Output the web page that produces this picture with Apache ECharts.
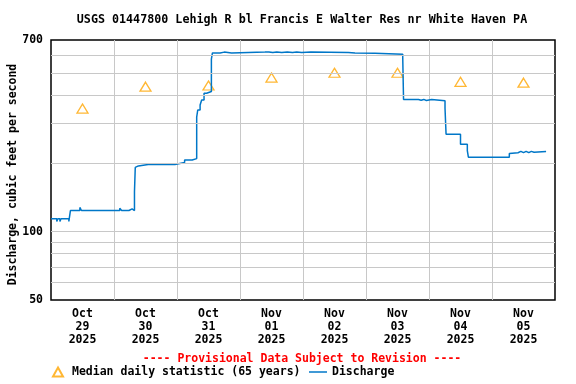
<!DOCTYPE html>
<html>
<head>
<meta charset="utf-8">
<script src="https://cdn.jsdelivr.net/npm/echarts@6/dist/echarts.min.js"></script>
<style>html,body{margin:0;padding:0;background:#fff}#c{width:576px;height:384px}</style>
</head>
<body>
<div id="c"></div>
<script>
// ---- data ----
const titleText = 'USGS 01447800 Lehigh R bl Francis E Walter Res nr White Haven PA';
const dayMonths = ['Oct','Oct','Oct','Nov','Nov','Nov','Nov','Nov'];
const dayNums   = ['29','30','31','01','02','03','04','05'];
const dayYears  = ['2025','2025','2025','2025','2025','2025','2025','2025'];
// hours since Oct 29 00:00
const dischargeHours = [0,2.2,2.6,3.4,3.8,6.8,7.4,11.0,11.3,11.6,26.2,26.9,29.7,30.9,31.8,32.1,32.6,33.3,
  37.0,37.4,41.6,41.9,47.2,50.9,53.8,55.5,55.9,56.8,57.4,58.3,59.3,61.1,61.5,64.4,66.0,68.8,81.5,83,84.5,86,
  87.9,90,92,93.6,95.5,99,113.3,115.8,123.4,134.0,134.3,140,141,142,143,145,150.1,150.5,155.2,155.6,156.0,
  158.6,159.0,174.6,175.2,177.9,179,180,181,182,183,184,188.6];
const dischargeValues = [114,111,114,111,114,111,124,128,126,124,127,124,126,124,150,192,195,198,
  202,198,202,198,202,207,210,320,344,362,381,408,415,576,614,619,614,619,620,616,620,616,
  620,617,620,617,620,617,614,612,605,583,383,380,383,379,383,378,350,269,273,269,243,
  228,213,221,223,226,223,226,223,226,224,226,227];
const medianHours  = [12,36,60,84,108,132,156,180];
const medianValues = [349,436,441,478,502,502,458,454];
const yGridValues = [60,70,80,90,100,200,300,400,500,600];
const provisionalText = '---- Provisional Data Subject to Revision ----';
const medianName = 'Median daily statistic (65 years)';
const dischargeName = 'Discharge';

const FONT = '"DejaVu Sans Mono", "Liberation Mono", monospace';
const chart = echarts.init(document.getElementById('c'), null, {renderer:'canvas'});
chart.setOption({
  animation: false,
  backgroundColor: '#fff',
  title: {
    text: titleText, left: 302, top: 14, padding: 0, textAlign: 'center',
    textStyle: {fontFamily: FONT, fontWeight: 'bold', fontSize: 11.7, color: '#000'}
  },
  grid: {left: 51, right: 21, top: 40, bottom: 84, containLabel: false, outerBoundsMode: 'none',
    show: true, borderColor: '#000', borderWidth: 1.5, backgroundColor: 'transparent'},
  legend: [
    {data: [medianName], left: 52, top: 366, itemWidth: 10, itemHeight: 9, padding: 0,
     textStyle: {fontFamily: FONT, fontWeight: 'bold', fontSize: 11.5, color: '#000', padding: [0, 0, 0, 4]}},
    {data: [{name: dischargeName, icon: 'path://M0,0H18V1.5H0Z'}], left: 309, top: 366, itemWidth: 18, itemHeight: 9, padding: 0,
     textStyle: {fontFamily: FONT, fontWeight: 'bold', fontSize: 11.5, color: '#000'}}
  ],
  graphic: [{
    type: 'text', z: 10,
    style: {text: provisionalText, x: 302, y: 359, align: 'center', verticalAlign: 'middle',
      fill: '#ff0000', font: 'bold 11.5px ' + FONT}
  }],
  xAxis: [
    {type: 'value', min: 0, max: 192, interval: 24,
     axisLine: {show: false}, axisTick: {show: false}, axisLabel: {show: false},
     splitLine: {show: true, showMinLine: false, showMaxLine: false, lineStyle: {color: '#c8c8c8', width: 1}}},
    {type: 'category', position: 'bottom', data: dayMonths.map((m, i) => m + '\n' + dayNums[i] + '\n' + dayYears[i]),
     boundaryGap: true, axisLine: {show: false}, axisTick: {show: false}, splitLine: {show: false},
     axisLabel: {margin: 7, lineHeight: 13.3, fontFamily: FONT, fontWeight: 'bold', fontSize: 11.5, color: '#000'}}
  ],
  yAxis: {
    type: 'log', logBase: 10, min: 50, max: 700,
    name: 'Discharge, cubic feet per second', nameLocation: 'middle', nameGap: 32, nameMoveOverlap: false,
    nameTextStyle: {fontFamily: FONT, fontWeight: 'bold', fontSize: 11.5, color: '#000', padding: [0, 9, 0, 0]},
    axisLine: {show: false}, axisTick: {show: false}, splitLine: {show: false},
    axisLabel: {margin: 8, showMinLabel: true, showMaxLabel: true, formatter: v => String(Math.round(v)),
      fontFamily: FONT, fontWeight: 'bold', fontSize: 11.5, color: '#000'}
  },
  series: [
    {
      name: medianName, type: 'scatter', z: 2, xAxisIndex: 0,
      symbol: 'triangle', symbolSize: [11, 9],
      itemStyle: {color: 'rgba(255,255,255,0)', borderColor: '#FFA500', borderWidth: 1.3},
      data: medianHours.map((h, i) => [h, medianValues[i]]),
      markLine: {
        silent: true, symbol: 'none', label: {show: false},
        lineStyle: {color: '#c8c8c8', width: 1, type: 'solid'},
        emphasis: {disabled: true},
        data: yGridValues.map(v => ({yAxis: v}))
      }
    },
    {
      name: dischargeName, type: 'line', z: 3, xAxisIndex: 0,
      step: 'end', symbol: 'none', showSymbol: false,
      lineStyle: {color: '#0077C8', width: 1.5}, itemStyle: {color: '#0077C8'},
      data: dischargeHours.map((h, i) => [h, dischargeValues[i]])
    }
  ]
});
</script>
</body>
</html>
